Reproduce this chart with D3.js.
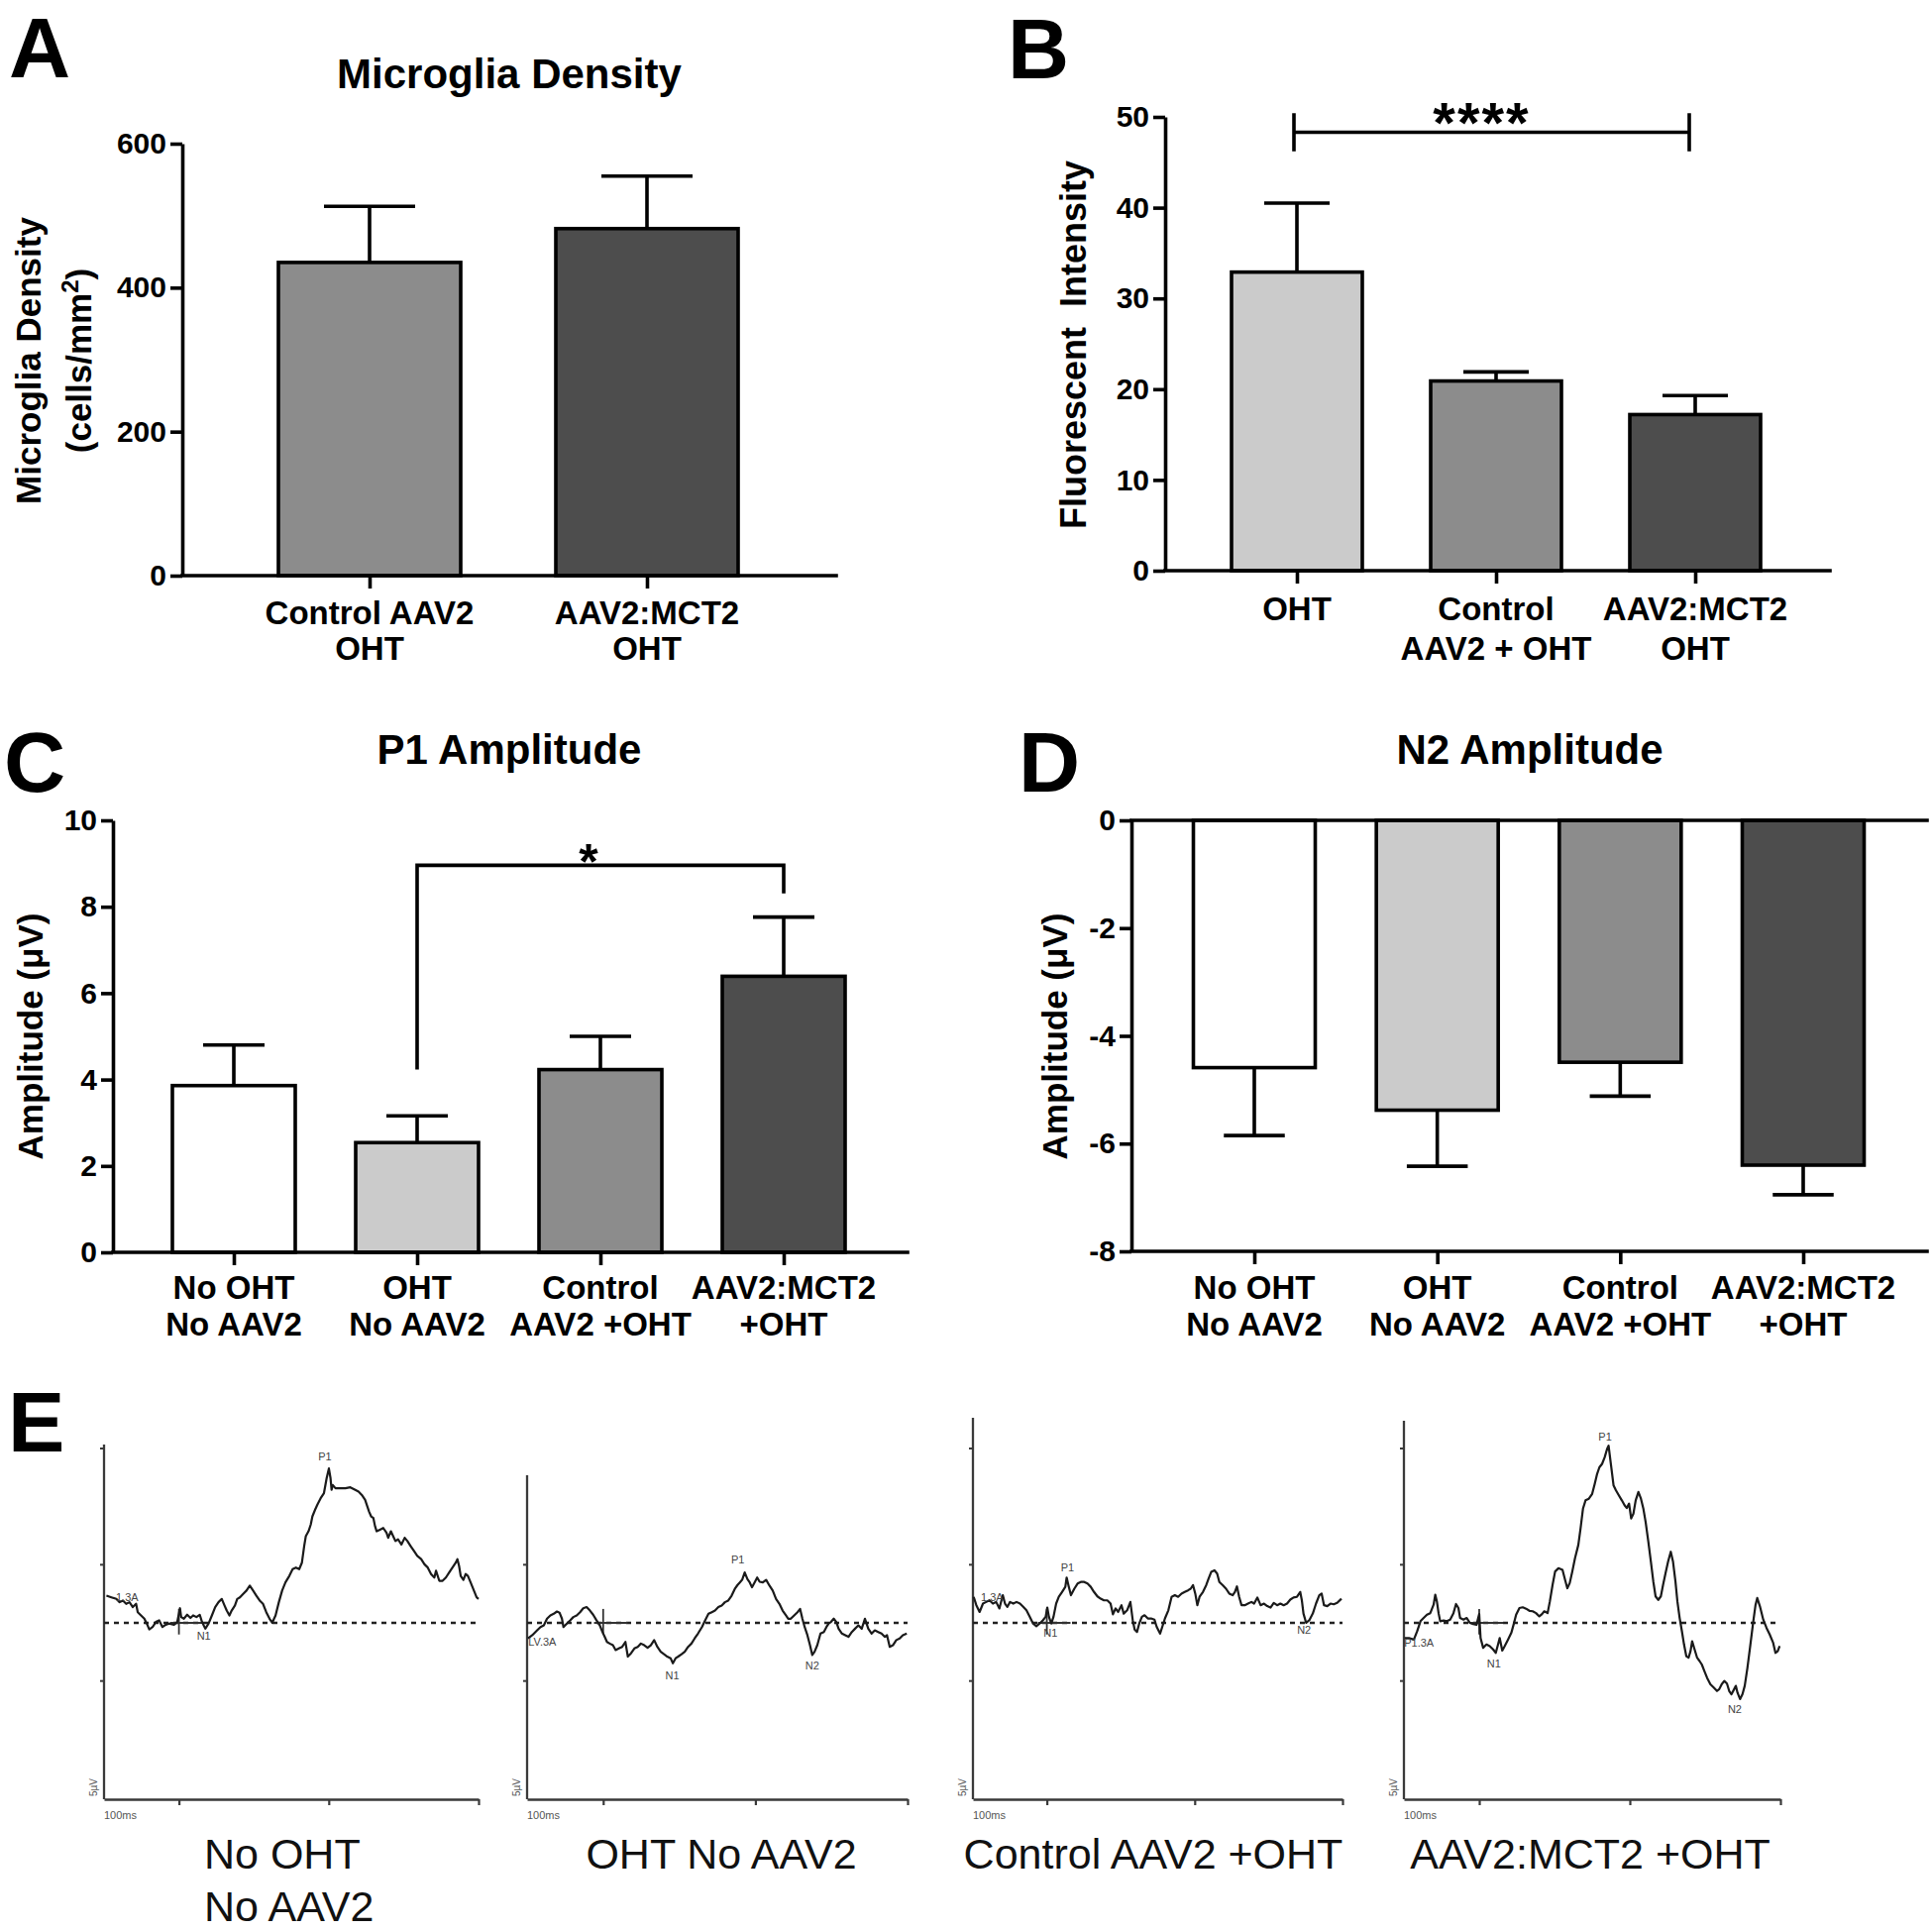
<!DOCTYPE html>
<html><head><meta charset="utf-8">
<script src="https://cdn.jsdelivr.net/npm/d3@7"></script>
<style>html,body{margin:0;padding:0;background:#fff;} svg{display:block;}</style>
</head><body>
<svg id="fig" width="1950" height="1949"></svg>
<script>
// ================= DATA =================
// Panel A – Microglia density
const densityCategories = ["Control AAV2\nOHT", "AAV2:MCT2\nOHT"];
const densityMeans = [435, 482];
const densitySEM = [78, 73];
const densityTicks = [0, 200, 400, 600];
const densityColors = ["#8c8c8c", "#4d4d4d"];

// Panel B – Fluorescent intensity
const fluorCategories = ["OHT", "Control\nAAV2 + OHT", "AAV2:MCT2\nOHT"];
const fluorMeans = [32.9, 20.9, 17.2];
const fluorSEM = [7.6, 1.0, 2.1];
const fluorTicks = [0, 10, 20, 30, 40, 50];
const fluorColors = ["#cbcbcb", "#8c8c8c", "#4d4d4d"];

// Panels C/D – amplitudes
const ampCategories = ["No OHT\nNo AAV2", "OHT\nNo AAV2", "Control\nAAV2 +OHT", "AAV2:MCT2\n+OHT"];
const ampColors = ["#ffffff", "#cbcbcb", "#8c8c8c", "#4d4d4d"];
const p1Means = [3.86, 2.54, 4.23, 6.39];
const p1SEM = [0.94, 0.62, 0.77, 1.37];
const p1Ticks = [0, 2, 4, 6, 8, 10];
const n2Means = [-4.59, -5.38, -4.49, -6.40];
const n2SEM = [1.26, 1.04, 0.63, 0.55];
const n2Ticks = [-8, -6, -4, -2, 0];

// Panel E – VEP traces  [time ms, amplitude µV]
const traceTimeTicks = [0, 100, 200];
const traceNoOHT = [[-48.4,1.17],[-45.1,1.10],[-41.8,1.03],[-39.6,0.89],[-37.4,0.96],[-35.2,0.82],[-33.0,0.89],[-30.8,0.68],[-28.6,0.82],[-27.5,0.46],[-25.3,0.32],[-23.1,0.18],[-20.9,-0.11],[-19.8,-0.28],[-17.6,-0.18],[-15.4,0.04],[-13.2,0.11],[-11.0,-0.18],[-8.8,-0.08],[-6.6,-0.03],[-3.3,-0.08],[-1.1,0.04],[0.7,0.63],[1.5,0.25],[3.3,0.18],[5.5,0.35],[7.7,0.21],[9.5,0.32],[11.7,0.25],[13.9,0.35],[15.4,0.04],[17.6,-0.25],[19.8,-0.03],[22.0,0.32],[24.2,0.68],[26.4,0.89],[28.6,1.03],[30.4,0.75],[31.9,0.53],[33.7,0.32],[35.2,0.53],[37.4,0.75],[38.9,1.03],[40.7,1.10],[42.9,1.25],[45.1,1.39],[47.3,1.60],[49.5,1.39],[51.7,1.17],[53.9,0.96],[56.1,0.82],[58.3,0.46],[60.5,0.18],[62.3,0.01],[64.5,0.32],[66.7,0.89],[68.9,1.39],[71.1,1.74],[73.7,2.02],[75.9,2.31],[78.1,2.38],[80.3,2.31],[82.1,2.59],[83.6,3.30],[84.7,3.73],[86.5,3.94],[88.0,4.23],[89.1,4.58],[90.9,4.87],[92.4,5.08],[94.6,5.36],[96.8,5.58],[98.6,6.22],[100.1,6.64],[101.2,6.22],[101.9,5.72],[102.7,5.93],[104.5,5.79],[107.8,5.79],[111.1,5.79],[114.4,5.83],[117.7,5.72],[119.9,5.65],[122.1,5.50],[124.3,5.29],[125.4,5.08],[126.9,4.79],[128.3,4.58],[129.8,4.51],[130.9,4.16],[132.0,3.94],[134.2,4.01],[136.4,4.08],[138.6,3.87],[139.7,3.66],[141.5,3.94],[143.0,3.73],[144.5,3.52],[146.3,3.59],[148.5,3.37],[150.7,3.66],[152.5,3.52],[154.7,3.30],[156.9,3.09],[159.1,2.88],[161.7,2.74],[163.9,2.52],[166.1,2.38],[168.3,2.10],[170.5,1.95],[171.6,2.24],[173.8,1.81],[176.0,1.81],[178.2,1.95],[180.4,2.17],[182.6,2.38],[184.8,2.59],[185.9,2.74],[187.0,2.45],[188.1,2.02],[189.9,1.85],[191.4,2.10],[192.9,2.02],[194.7,1.74],[196.9,1.39],[198.7,1.10],[200.0,1.03]];
const traceOHT = [[-49.4,-0.67],[-46.6,-0.53],[-43.4,-0.32],[-41.2,-0.18],[-39.0,-0.11],[-36.9,0.18],[-34.7,0.32],[-32.5,0.39],[-30.4,0.49],[-28.7,0.44],[-27.1,0.18],[-26.1,-0.18],[-23.9,-0.03],[-21.7,0.11],[-19.6,0.25],[-17.4,0.32],[-15.2,0.46],[-13.1,0.63],[-10.9,0.68],[-8.7,0.53],[-6.6,0.35],[-4.4,0.11],[-2.2,-0.11],[-0.5,-0.39],[1.0,-0.60],[2.5,-0.82],[4.3,-0.89],[6.4,-0.96],[8.2,-1.17],[10.3,-1.10],[12.5,-1.03],[14.6,-0.82],[16.2,-1.45],[18.3,-1.31],[20.5,-1.10],[22.7,-1.03],[24.8,-0.89],[27.0,-0.96],[29.2,-1.07],[31.3,-0.96],[33.5,-0.74],[35.6,-1.03],[37.8,-1.24],[40.0,-1.35],[42.1,-1.45],[44.3,-1.52],[45.8,-1.74],[47.6,-1.52],[49.3,-1.45],[51.5,-1.35],[53.6,-1.24],[55.8,-1.03],[58.0,-0.89],[60.1,-0.67],[62.3,-0.46],[64.9,-0.18],[67.0,0.11],[69.2,0.39],[71.4,0.46],[73.5,0.53],[75.7,0.68],[77.9,0.75],[80.0,0.89],[82.2,0.96],[84.4,1.17],[86.5,1.46],[88.3,1.63],[89.8,1.74],[91.3,1.85],[93.0,2.17],[94.8,1.88],[96.3,1.74],[97.8,1.53],[99.5,1.74],[101.2,1.95],[102.8,1.77],[104.9,1.74],[107.1,1.85],[109.3,1.60],[111.4,1.39],[113.6,1.03],[115.8,0.82],[117.9,0.53],[120.1,0.32],[121.6,0.18],[123.3,0.18],[125.5,0.32],[127.7,0.46],[129.4,0.60],[130.9,0.18],[132.4,-0.18],[134.2,-0.53],[135.9,-0.96],[137.4,-1.38],[138.9,-1.24],[140.7,-0.96],[142.8,-0.46],[145.0,-0.39],[146.7,-0.18],[148.2,-0.03],[149.7,0.04],[151.5,0.18],[153.2,0.04],[154.7,-0.25],[156.9,-0.46],[159.1,-0.53],[161.2,-0.60],[163.4,-0.39],[165.5,-0.25],[167.7,-0.11],[169.9,-0.25],[172.0,0.18],[174.2,-0.25],[176.4,-0.46],[178.5,-0.32],[180.7,-0.39],[182.9,-0.46],[185.0,-0.60],[186.5,-0.53],[188.3,-1.03],[190.4,-0.96],[192.6,-0.74],[194.8,-0.67],[196.9,-0.53],[199.5,-0.46]];
const traceControl = [[-49.5,1.12],[-47.7,0.76],[-45.5,0.47],[-43.2,0.83],[-41.0,0.90],[-38.8,0.97],[-36.5,0.83],[-34.3,0.90],[-32.1,0.62],[-29.8,1.19],[-28.3,0.83],[-26.7,0.69],[-24.9,0.90],[-22.7,0.83],[-20.5,0.90],[-18.2,0.83],[-16.0,0.69],[-13.8,0.54],[-11.5,0.26],[-9.3,-0.03],[-7.1,-0.14],[-4.9,-0.03],[-2.6,0.12],[-0.8,0.26],[0.3,0.66],[1.4,0.26],[3.0,-0.03],[4.5,0.26],[6.3,0.83],[8.1,1.12],[10.3,1.33],[12.5,1.55],[13.4,1.95],[14.8,1.57],[16.3,1.19],[18.6,1.47],[20.8,1.69],[23.0,1.76],[25.3,1.76],[27.5,1.69],[29.7,1.55],[31.9,1.33],[34.2,1.14],[36.4,1.04],[38.6,0.97],[40.9,0.97],[43.1,0.83],[44.7,0.37],[46.5,0.62],[48.2,0.47],[50.5,0.76],[52.0,0.40],[54.3,0.54],[56.5,0.90],[58.1,0.12],[59.4,-0.29],[61.0,-0.39],[62.5,-0.03],[64.3,0.26],[66.1,0.33],[68.3,0.19],[70.5,0.19],[72.8,0.14],[74.3,-0.17],[76.6,-0.46],[78.1,-0.17],[79.9,0.19],[82.2,0.54],[84.4,1.12],[86.6,1.19],[88.8,1.12],[91.1,1.26],[93.3,1.33],[95.5,1.40],[97.3,1.47],[98.9,1.62],[100.4,1.26],[101.8,0.76],[103.3,1.12],[105.6,1.33],[107.8,1.62],[109.4,1.90],[111.2,2.19],[113.4,2.26],[115.2,2.12],[116.7,1.76],[119.0,1.62],[121.2,1.47],[123.4,1.26],[125.7,1.19],[127.2,1.33],[128.6,1.57],[130.1,1.12],[131.7,0.76],[133.9,0.76],[136.1,0.83],[138.4,0.90],[140.2,0.83],[142.4,1.09],[144.6,0.76],[146.9,0.83],[149.1,0.72],[151.3,0.66],[153.5,0.86],[155.8,0.76],[158.0,0.83],[160.2,0.76],[162.5,0.83],[164.7,1.00],[166.9,1.09],[169.2,1.12],[171.4,1.33],[172.5,0.97],[173.6,0.40],[175.4,0.00],[177.6,0.12],[179.9,0.40],[182.1,0.83],[184.3,1.19],[185.9,1.26],[187.5,0.76],[189.7,0.72],[191.9,0.83],[194.1,0.80],[196.4,0.86],[199.3,1.04]];
const traceMCT2 = [[-49.6,-0.65],[-46.7,-0.65],[-43.4,-0.72],[-41.2,-0.36],[-39.0,0.07],[-36.9,0.21],[-34.7,0.35],[-32.5,0.42],[-30.3,0.78],[-29.2,1.21],[-28.1,0.92],[-27.0,0.42],[-25.9,0.07],[-23.7,0.10],[-21.5,0.07],[-19.3,0.14],[-17.1,0.42],[-15.4,0.81],[-13.8,0.64],[-12.7,0.21],[-10.5,0.14],[-8.3,0.21],[-6.2,0.00],[-4.0,-0.05],[-1.8,-0.08],[0.0,0.38],[0.9,-0.65],[2.6,-1.07],[4.8,-0.93],[7.0,-1.00],[9.2,-1.14],[11.0,-1.29],[12.5,-0.93],[13.6,-0.65],[15.3,-1.19],[16.9,-1.00],[19.1,-0.72],[21.3,-0.43],[22.8,-0.08],[24.5,0.35],[26.7,0.64],[28.9,0.67],[31.1,0.61],[33.3,0.52],[35.5,0.50],[37.7,0.42],[39.9,0.28],[41.7,0.38],[43.2,0.50],[45.4,0.42],[46.9,0.92],[48.7,1.63],[50.4,2.21],[52.6,2.35],[55.3,2.28],[57.0,1.85],[58.5,1.49],[60.1,1.71],[61.8,2.21],[63.6,2.78],[65.8,3.35],[67.3,4.06],[68.9,4.91],[70.6,5.27],[72.8,5.34],[75.0,5.55],[76.7,5.98],[78.3,6.41],[79.8,6.69],[81.6,6.84],[83.3,7.12],[84.9,7.48],[85.9,7.62],[87.0,7.05],[88.1,6.48],[89.2,5.91],[90.8,5.70],[92.5,5.51],[94.7,5.27],[96.5,5.06],[98.0,4.94],[99.5,5.13],[100.9,4.49],[102.4,4.70],[103.9,5.27],[105.7,5.63],[107.4,5.34],[109.0,4.91],[110.5,4.34],[112.3,3.49],[114.0,2.63],[115.6,1.78],[117.1,1.14],[118.9,0.99],[120.6,1.14],[122.1,1.64],[123.7,2.13],[125.4,2.63],[127.2,3.06],[128.7,2.63],[130.3,1.78],[131.6,0.92],[133.1,0.21],[134.6,-0.36],[136.0,-0.93],[137.5,-1.43],[139.0,-1.50],[140.3,-1.22],[141.4,-0.79],[143.0,-1.14],[144.7,-1.50],[146.3,-1.64],[147.8,-1.79],[149.5,-2.07],[151.3,-2.36],[153.5,-2.64],[155.7,-2.78],[157.9,-2.93],[159.4,-2.85],[161.0,-2.64],[162.7,-2.50],[164.5,-2.61],[166.0,-2.93],[167.5,-3.07],[169.3,-2.85],[170.4,-2.71],[171.5,-3.00],[173.2,-3.28],[174.8,-3.07],[176.3,-2.71],[178.1,-1.93],[179.8,-1.07],[182.0,0.07],[183.5,0.78],[184.6,1.07],[186.4,0.71],[188.6,0.14],[190.8,-0.22],[192.9,-0.50],[195.2,-0.86],[196.7,-1.29],[198.2,-1.22],[199.5,-1.00]];
// peak labels [text, ms, µV]
const labelsNoOHT = [["P1",97.4,7.18],["N1",16.6,-0.56],["1.3A",-34.6,1.12]];
const labelsOHT = [["P1",88.5,2.73],["N1",45.4,-2.24],["N2",137.4,-1.85],["LV.3A",-40,-0.8]];
const labelsControl = [["P1",14,2.4],["N1",2.5,-0.42],["N2",174,-0.3],["1.3A",-37,1.1]];
const labelsMCT2 = [["P1",83.6,8.0],["N1",9.7,-1.75],["N2",169.7,-3.7],["P1.3A",-40,-0.85]];
const traceCaptions = [["No OHT","No AAV2"],["OHT No AAV2"],["Control AAV2 +OHT"],["AAV2:MCT2 +OHT"]];

// ================= DRAWING =================
const FONT = "'Liberation Sans', Arial, Helvetica, sans-serif";
const svg = d3.select("#fig");
svg.append("rect").attr("width", 1950).attr("height", 1949).attr("fill", "#fff");

function txt(g, s, x, y, size, opts = {}) {
  return g.append("text").attr("x", x).attr("y", y).text(s)
    .attr("font-family", FONT).attr("font-size", size)
    .attr("font-weight", opts.weight || "bold")
    .attr("text-anchor", opts.anchor || "start")
    .attr("fill", opts.fill || "#000");
}

function barPanel(cfg) {
  const g = svg.append("g");
  const y = d3.scaleLinear().domain(cfg.yDomain).range(cfg.yRange);
  const x = d3.scalePoint().domain(cfg.cats).range(cfg.centers);
  const base = y(0);
  const bottom = y(cfg.yDomain[0]);
  const SW = 3.6;

  g.selectAll("rect.bar").data(cfg.means).join("rect").attr("class", "bar")
    .attr("x", (d, i) => x(cfg.cats[i]) - cfg.barW / 2)
    .attr("y", d => Math.min(y(d), base))
    .attr("width", cfg.barW)
    .attr("height", d => Math.abs(y(d) - base))
    .attr("fill", (d, i) => cfg.colors[i])
    .attr("stroke", "#000").attr("stroke-width", SW);

  cfg.means.forEach((m, i) => {
    const cx = x(cfg.cats[i]);
    const end = m >= 0 ? m + cfg.sem[i] : m - cfg.sem[i];
    g.append("line").attr("x1", cx).attr("x2", cx).attr("y1", y(m)).attr("y2", y(end))
      .attr("stroke", "#000").attr("stroke-width", SW);
    g.append("line").attr("x1", cx - cfg.barW / 4).attr("x2", cx + cfg.barW / 4)
      .attr("y1", y(end)).attr("y2", y(end))
      .attr("stroke", "#000").attr("stroke-width", SW);
  });

  g.append("line").attr("x1", cfg.axisX).attr("x2", cfg.axisEnd).attr("y1", bottom).attr("y2", bottom)
    .attr("stroke", "#000").attr("stroke-width", SW).attr("stroke-linecap", "square");
  if (cfg.zeroLine) {
    g.append("line").attr("x1", cfg.axisX).attr("x2", cfg.axisEnd).attr("y1", base).attr("y2", base)
      .attr("stroke", "#000").attr("stroke-width", SW).attr("stroke-linecap", "square");
  }

  const ya = g.append("g").attr("transform", `translate(${cfg.axisX},0)`)
    .call(d3.axisLeft(y).tickValues(cfg.ticks).tickSize(12).tickSizeOuter(0).tickPadding(4)
      .tickFormat(d => String(d)));
  ya.attr("font-family", FONT).attr("font-size", 30).attr("font-weight", "bold");
  ya.select(".domain").attr("stroke", "#000").attr("stroke-width", SW);
  ya.selectAll(".tick line").attr("stroke", "#000").attr("stroke-width", SW);
  ya.selectAll(".tick text").attr("fill", "#000");

  const xa = g.append("g").attr("transform", `translate(0,${bottom})`)
    .call(d3.axisBottom(x).tickSize(13).tickSizeOuter(0).tickFormat(""));
  xa.select(".domain").remove();
  xa.selectAll(".tick line").attr("stroke", "#000").attr("stroke-width", SW);

  cfg.cats.forEach(c => {
    const lines = c.split("\n");
    const t = g.append("text").attr("font-family", FONT).attr("font-size", 33)
      .attr("font-weight", "bold").attr("text-anchor", "middle").attr("fill", "#000");
    lines.forEach((ln, k) => t.append("tspan").attr("x", x(c)).attr("y", cfg.labelY[k]).text(ln));
  });

  cfg.yTitle.forEach(tt => {
    const t = g.append("text").attr("transform", `translate(${tt.x},${tt.cy}) rotate(-90)`)
      .attr("font-family", FONT).attr("font-size", tt.size || 35).attr("font-weight", "bold")
      .attr("text-anchor", "middle").attr("fill", "#000");
    if (tt.sup) {
      t.append("tspan").text(tt.text);
      t.append("tspan").attr("dy", -13).attr("font-size", 24).text(tt.sup);
      t.append("tspan").attr("dy", 13).text(tt.after);
    } else {
      t.text(tt.text);
    }
  });

  if (cfg.title) txt(g, cfg.title.text, cfg.title.x, cfg.title.y, 42, { anchor: "middle" });

  if (cfg.sig) {
    const s = cfg.sig;
    const x1 = x(cfg.cats[s.from]) + (s.dx1 || 0), x2 = x(cfg.cats[s.to]) + (s.dx2 || 0);
    g.append("path")
      .attr("d", `M${x1},${y(s.leftDown)}V${y(s.level)}H${x2}V${y(s.rightDown)}` +
        (s.capUp !== undefined ? `M${x1},${y(s.level)}V${y(s.capUp)}M${x2},${y(s.level)}V${y(s.capUp)}` : ""))
      .attr("fill", "none").attr("stroke", "#000").attr("stroke-width", SW);
    txt(g, s.text, (x1 + x2) / 2 + (s.dx || 0), s.textY, s.size, { anchor: "middle" })
      .attr("letter-spacing", s.spacing || 0);
  }
  return { x, y };
}

// Panel letters
[["A", 9, 78], ["B", 1017, 79], ["C", 4, 799], ["D", 1028, 799], ["E", 8, 1465]]
  .forEach(([s, x, y]) => txt(svg, s, x, y, 86));

// Panel A
barPanel({
  cats: densityCategories, means: densityMeans, sem: densitySEM, ticks: densityTicks, colors: densityColors,
  yDomain: [0, 600], yRange: [581, 145], centers: [373, 653], barW: 184,
  axisX: 184, axisEnd: 844, labelY: [630, 666],
  yTitle: [{ text: "Microglia Density", x: 41, cy: 364 },
           { text: "(cells/mm", sup: "2", after: ")", x: 92, cy: 364 }],
  title: { text: "Microglia Density", x: 514, y: 89 }
});

// Panel B
barPanel({
  cats: fluorCategories, means: fluorMeans, sem: fluorSEM, ticks: fluorTicks, colors: fluorColors,
  yDomain: [0, 50], yRange: [576, 118], centers: [1309, 1711], barW: 132,
  axisX: 1176, axisEnd: 1847, labelY: [626, 666],
  yTitle: [{ text: "Fluorescent\u00a0\u00a0Intensity", x: 1096, cy: 348, size: 36 }],
  sig: { from: 0, to: 2, dx1: -3, dx2: -6, level: 48.3, leftDown: 46.2, rightDown: 46.2, capUp: 50.4,
         text: "****", textY: 144, size: 58, dx: -10, spacing: 2 }
});

// Panel C
barPanel({
  cats: ampCategories, means: p1Means, sem: p1SEM, ticks: p1Ticks, colors: ampColors,
  yDomain: [0, 10], yRange: [1264, 828], centers: [236, 791], barW: 124,
  axisX: 114, axisEnd: 916, labelY: [1311, 1348],
  yTitle: [{ text: "Amplitude (\u03bcV)", x: 43, cy: 1046 }],
  title: { text: "P1 Amplitude", x: 514, y: 771 },
  sig: { from: 1, to: 3, level: 8.96, leftDown: 4.23, rightDown: 8.31, text: "*", textY: 887, size: 50, dx: -12 }
});

// Panel D
barPanel({
  cats: ampCategories, means: n2Means, sem: n2SEM, ticks: n2Ticks, colors: ampColors,
  yDomain: [-8, 0], yRange: [1263, 828], centers: [1266, 1820], barW: 123,
  axisX: 1142, axisEnd: 1945, labelY: [1311, 1348], zeroLine: true,
  yTitle: [{ text: "Amplitude (\u03bcV)", x: 1077, cy: 1046 }],
  title: { text: "N2 Amplitude", x: 1544, y: 771 }
});

// Panel E – traces
function tracePanel(cfg) {
  const g = svg.append("g");
  const x = d3.scaleLinear().domain([-50, 200]).range([cfg.x0, cfg.x1]);
  const y = d3.scaleLinear().domain([-7.5, 7.5]).range([1814, 1462]);
  const bottom = 1816;
  const AX = "#3a3a3a";
  g.append("line").attr("x1", cfg.x0).attr("x2", cfg.x0).attr("y1", bottom).attr("y2", cfg.top)
    .attr("stroke", AX).attr("stroke-width", 2.3);
  cfg.yTicks.forEach(v => g.append("line").attr("x1", cfg.x0 - 4).attr("x2", cfg.x0)
    .attr("y1", y(v)).attr("y2", y(v)).attr("stroke", AX).attr("stroke-width", 2));
  const xa = g.append("g").attr("transform", `translate(0,${bottom})`)
    .call(d3.axisBottom(x).tickValues(traceTimeTicks).tickSize(6).tickSizeOuter(0).tickFormat(""));
  xa.select(".domain").attr("stroke", AX).attr("stroke-width", 2.5);
  xa.selectAll(".tick line").attr("stroke", AX).attr("stroke-width", 2.2);
  g.append("line").attr("x1", x(-50)).attr("x2", x(200)).attr("y1", y(0)).attr("y2", y(0))
    .attr("stroke", "#222").attr("stroke-width", 2.3).attr("stroke-dasharray", "5,5");
  g.append("line").attr("x1", x(-6)).attr("x2", x(16)).attr("y1", y(0)).attr("y2", y(0))
    .attr("stroke", "#333").attr("stroke-width", 1.8);
  g.append("line").attr("x1", x(0)).attr("x2", x(0)).attr("y1", y(0.6)).attr("y2", y(-0.5))
    .attr("stroke", "#333").attr("stroke-width", 1.8);
  g.append("path").datum(cfg.data)
    .attr("d", d3.line().x(d => x(d[0])).y(d => y(d[1])))
    .attr("fill", "none").attr("stroke", "#1a1a1a").attr("stroke-width", 2.2)
    .attr("stroke-linejoin", "round");
  cfg.labels.forEach(([s, t, v]) => txt(g, s, x(t), y(v) + 4, 11, { anchor: "middle", weight: "normal", fill: "#444" }));
  txt(g, "100ms", cfg.x0, bottom + 20, 11, { weight: "normal", fill: "#555" });
  g.append("text").attr("transform", `translate(${cfg.x0 - 7},${bottom - 3}) rotate(-90)`)
    .attr("font-family", FONT).attr("font-size", 10).attr("fill", "#555").text("5\u00b5V");
  cfg.caption.forEach((s, k) => txt(g, s, cfg.capX, 1886 + k * 53, 43,
    { weight: "normal", anchor: cfg.capAnchor, fill: "#111" }));
}

tracePanel({ data: traceNoOHT, labels: labelsNoOHT, x0: 105, x1: 483, top: 1458, yTicks: [7.5, 2.5, -2.5],
  caption: traceCaptions[0], capX: 206, capAnchor: "start" });
tracePanel({ data: traceOHT, labels: labelsOHT, x0: 532, x1: 916, top: 1489, yTicks: [2.5, -2.5],
  caption: traceCaptions[1], capX: 728, capAnchor: "middle" });
tracePanel({ data: traceControl, labels: labelsControl, x0: 982, x1: 1355, top: 1431, yTicks: [7.5, 2.5, -2.5],
  caption: traceCaptions[2], capX: 1164, capAnchor: "middle" });
tracePanel({ data: traceMCT2, labels: labelsMCT2, x0: 1417, x1: 1797, top: 1434, yTicks: [7.5, 2.5, -2.5],
  caption: traceCaptions[3], capX: 1605, capAnchor: "middle" });
</script>
</body></html>
